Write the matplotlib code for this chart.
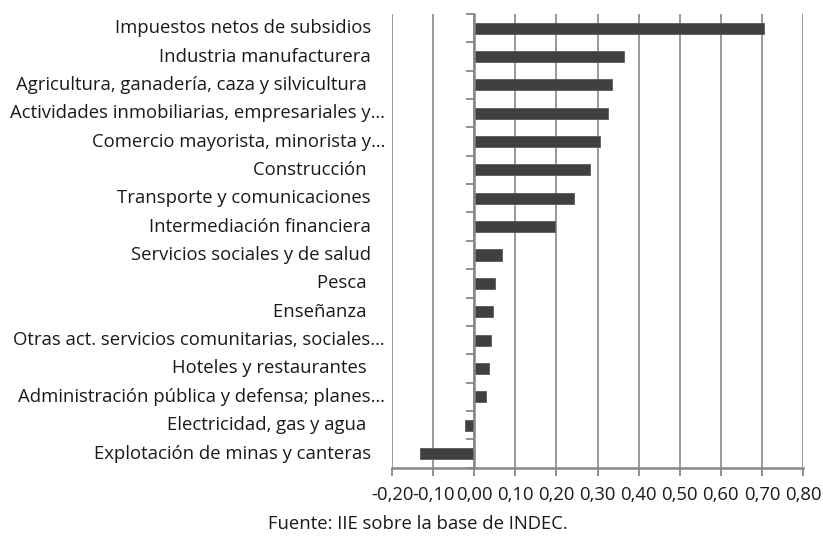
import numpy as np
import matplotlib
matplotlib.use('Agg')
import matplotlib.pyplot as plt
from matplotlib.ticker import FuncFormatter

plt.rcParams.update({'font.family': 'Open Sans', 'font.size': 13.3})

# ── Data ───────────────────────────────────────────────────────
sectores = [
    "Impuestos netos de subsidios",
    "Industria manufacturera",
    "Agricultura, ganadería, caza y silvicultura ",
    "Actividades inmobiliarias, empresariales y…",
    "Comercio mayorista, minorista y…",
    "Construcción ",
    "Transporte y comunicaciones",
    "Intermediación financiera",
    "Servicios sociales y de salud",
    "Pesca ",
    "Enseñanza ",
    "Otras act. servicios comunitarias, sociales…",
    "Hoteles y restaurantes ",
    "Administración pública y defensa; planes…",
    "Electricidad, gas y agua ",
    "Explotación de minas y canteras",
]
valores = [0.705, 0.365, 0.336, 0.325, 0.306, 0.281, 0.243, 0.196,
           0.068, 0.051, 0.045, 0.042, 0.036, 0.028, -0.022, -0.131]
x_ticks = [-0.2, -0.1, 0.0, 0.1, 0.2, 0.3, 0.4, 0.5, 0.6, 0.7, 0.8]

GRID = '#878787'
BAR = '#404040'
FS = 13.3

# ── Plot ───────────────────────────────────────────────────────
fig = plt.figure(figsize=(8.23, 5.39), dpi=100)
ax = fig.add_axes([392/823, 1-467.7/539, 411/823, 453.7/539])

pos = np.arange(len(sectores))
ax.barh(pos, valores, height=0.39, color=BAR, edgecolor='#5a5a5a', linewidth=0.6, zorder=3)

ax.set_xlim(-0.2, 0.8)
ax.set_ylim(len(sectores)-0.5, -0.5)
ax.set_xticks(x_ticks)
ax.xaxis.set_major_formatter(FuncFormatter(lambda v, p: f'{v:.2f}'.replace('.', ',').replace('-0,00', '0,00')))
ax.tick_params(axis='x', length=6, width=1.3, color=GRID, pad=7, labelsize=FS)
for t in ax.get_xticklabels():
    t.set_color('#1a1a1a')

# category boundary ticks on the zero axis
ax.spines['left'].set_position(('data', 0))
ax.set_yticks(np.arange(len(sectores)+1) - 0.5)
ax.set_yticklabels([])
ax.tick_params(axis='y', length=6, width=1.3, color=GRID, direction='out')

for s in ['top', 'right']:
    ax.spines[s].set_visible(False)
for s in ['left', 'bottom']:
    ax.spines[s].set_color(GRID)
    ax.spines[s].set_linewidth(1.8)
    ax.spines[s].set_zorder(4)

ax.grid(axis='x', color=GRID, lw=1.2, zorder=1)
ax.set_axisbelow(True)

# truncated labels hang their ellipsis past the common right edge
for i, nm in enumerate(sectores):
    px = 385 if nm.endswith('…') else 371
    ax.text((px - 392) / 411, i, nm, transform=ax.get_yaxis_transform(), ha='right',
            va='center', color='#1a1a1a', fontsize=FS)

fig.text(418/823, 1-524/539, 'Fuente: IIE sobre la base de INDEC.', ha='center', va='center',
         fontsize=FS, color='#1a1a1a')

fig.savefig('out.png', dpi=100, facecolor='white')
plt.close()
